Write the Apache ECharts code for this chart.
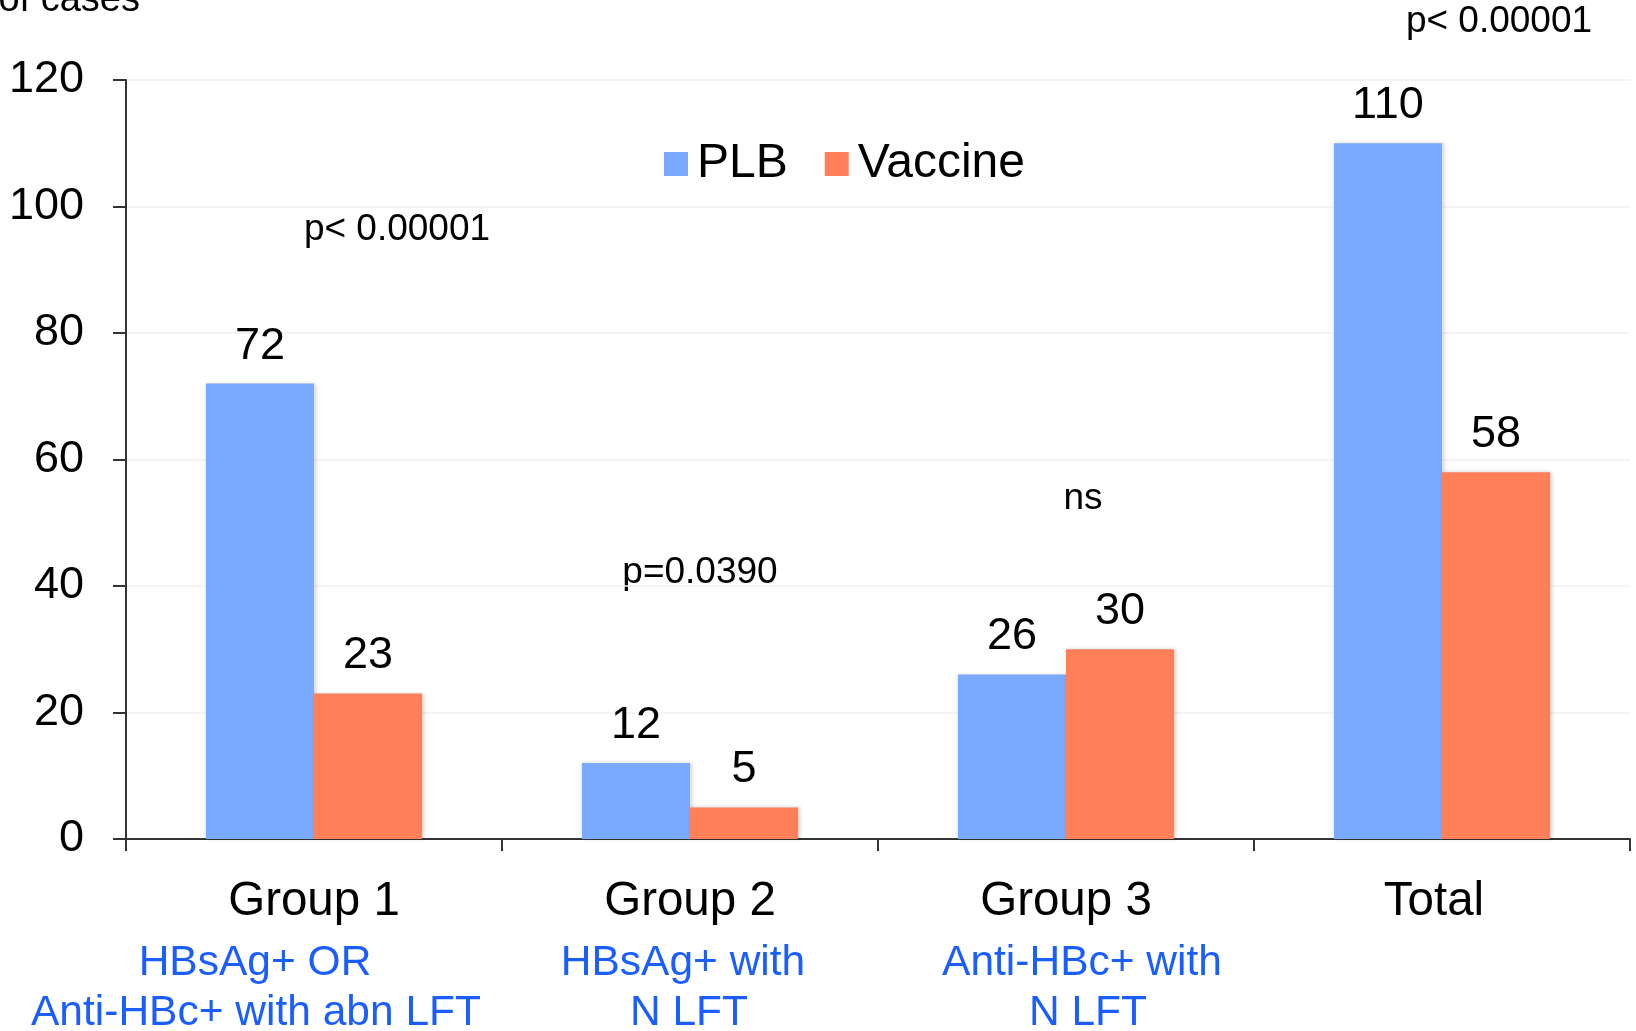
<!DOCTYPE html>
<html>
<head>
<meta charset="utf-8">
<script src="https://cdn.jsdelivr.net/npm/echarts@6/dist/echarts.min.js"></script>
<style>
  html, body { margin: 0; padding: 0; background: #ffffff; }
  #chart { width: 1636px; height: 1031px; }
</style>
</head>
<body>
<div id="chart"></div>
<script>
// Categories and their descriptive sub-lines
const categories = ['Group 1', 'Group 2', 'Group 3', 'Total'];
const subtitles = [
  ['HBsAg+ OR', 'Anti-HBc+ with abn LFT'],
  ['HBsAg+ with', 'N LFT'],
  ['Anti-HBc+ with', 'N LFT'],
  []
];

// Number of cases per arm
const seriesNames = ['PLB', 'Vaccine'];
const plbValues = [72, 12, 26, 110];
const vaccineValues = [23, 5, 30, 58];

// Value axis ticks
const yTicks = [0, 20, 40, 60, 80, 100, 120];

// Significance notes
const pNotes = ['p< 0.00001', 'p=0.0390', 'ns', 'p< 0.00001'];

// Layout: horizontal shift (px) of each category name and sub-line relative to the category centre
const catShift = [0, 0, 0, -8];
const subtitleShift = [[-59, -58], [-7, -1], [16, 22], []];
// Layout: centre positions (px) of the significance notes
const notePos = [[397, 230], [700, 573], [1083, 499], [1499, 22]];

const FONT = '"Liberation Sans", Arial, Helvetica, sans-serif';
const BLUE = '#79aaff';
const ORANGE = '#ff7f58';
const SUB_COLOR = '#1a5eff';

function shiftPadding(shift) {
  return shift < 0 ? [0, -2 * shift, 0, 0] : [0, 0, 0, 2 * shift];
}

const rich = {};
catShift.forEach((shift, i) => {
  rich['c' + i] = {
    fontSize: 47.5, lineHeight: 72, color: '#000000', fontFamily: FONT,
    padding: shiftPadding(shift)
  };
});
subtitleShift.forEach((row, i) => {
  row.forEach((shift, j) => {
    rich['s' + i + '_' + j] = {
      fontSize: 42.5,
      lineHeight: 50,
      color: SUB_COLOR,
      fontFamily: FONT,
      padding: shiftPadding(shift)
    };
  });
});

const chart = echarts.init(document.getElementById('chart'), null, { renderer: 'canvas' });

const graphics = pNotes.map((t, i) => ({
  type: 'text',
  x: notePos[i][0],
  y: notePos[i][1],
  style: {
    text: t,
    fontSize: 37,
    fontFamily: FONT,
    fill: '#000000',
    align: 'center',
    verticalAlign: 'middle'
  }
}));
graphics.push({
  type: 'text',
  x: 140,
  y: 1,
  style: {
    text: 'No. of cases',
    fontSize: 38,
    fontFamily: FONT,
    fill: '#000000',
    align: 'right',
    verticalAlign: 'middle'
  }
});

const barShadow = {
  shadowBlur: 4,
  shadowColor: 'rgba(0,0,0,0.18)',
  shadowOffsetX: 1.5,
  shadowOffsetY: 0
};

const barLabel = {
  show: true, position: 'top', distance: 15, fontSize: 45,
  color: '#000000', fontFamily: FONT
};

chart.setOption({
  animation: false,
  backgroundColor: '#ffffff',
  textStyle: { fontFamily: FONT },
  grid: {
    left: 126, right: 6, top: 80, bottom: 192,
    containLabel: false,
    outerBoundsMode: 'none'
  },
  legend: {
    data: seriesNames,
    left: 664,
    top: 140,
    padding: 0,
    itemWidth: 24,
    itemHeight: 24,
    itemGap: 37,
    icon: 'rect',
    textStyle: { fontSize: 48, color: '#000000', fontFamily: FONT, padding: [4, 0, 0, 4] }
  },
  xAxis: {
    type: 'category',
    data: categories,
    axisLine: { show: true, lineStyle: { color: '#333333', width: 2 } },
    axisTick: { show: true, length: 12, alignWithLabel: false, lineStyle: { color: '#333333', width: 2 } },
    axisLabel: {
      interval: 0,
      margin: 27,
      formatter: function (value) {
        const i = categories.indexOf(value);
        let s = '{c' + i + '|' + value + '}';
        subtitles[i].forEach((line, j) => {
          s += '\n{s' + i + '_' + j + '|' + line + '}';
        });
        return s;
      },
      rich: rich
    },
    splitLine: { show: false }
  },
  yAxis: {
    type: 'value',
    min: yTicks[0],
    max: yTicks[yTicks.length - 1],
    interval: yTicks[1] - yTicks[0],
    axisLine: { show: true, lineStyle: { color: '#333333', width: 2 } },
    axisTick: { show: true, length: 13, inside: false, lineStyle: { color: '#333333', width: 2 } },
    axisLabel: { fontSize: 45, color: '#000000', margin: 42, fontFamily: FONT, padding: [7, 0, 0, 0] },
    splitLine: { show: true, lineStyle: { color: '#f1f1f1', width: 1.5 } }
  },
  series: [
    {
      name: seriesNames[0],
      type: 'bar',
      data: plbValues,
      barGap: '0%',
      barCategoryGap: '42.5%',
      itemStyle: Object.assign({ color: BLUE }, barShadow),
      label: barLabel
    },
    {
      name: seriesNames[1],
      type: 'bar',
      data: vaccineValues,
      barGap: '0%',
      barCategoryGap: '42.5%',
      itemStyle: Object.assign({ color: ORANGE }, barShadow),
      label: barLabel
    }
  ],
  graphic: graphics
});
</script>
</body>
</html>
